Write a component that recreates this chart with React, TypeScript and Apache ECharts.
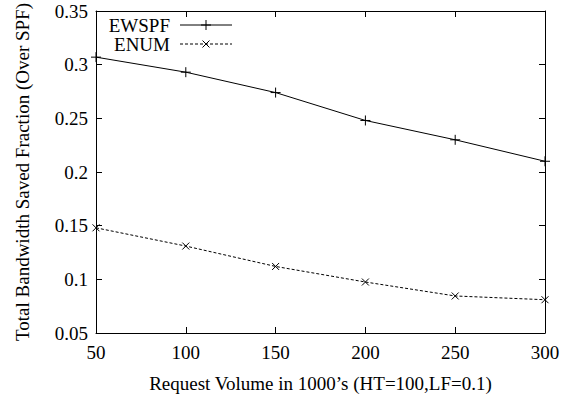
import React, { useEffect, useRef } from 'react';
import * as echarts from 'echarts';

const xValues = [50, 100, 150, 200, 250, 300];
const ewspfValues = [0.307, 0.293, 0.274, 0.248, 0.23, 0.21];
const enumValues = [0.148, 0.131, 0.112, 0.0975, 0.0845, 0.081];
const seriesNames = ['EWSPF', 'ENUM'];
const xTitle = "Request Volume in 1000\u2019s (HT=100,LF=0.1)";
const yTitle = 'Total Bandwidth Saved Fraction (Over SPF)';

const FONT = "Liberation Serif";
const FS = 19;
const PLUS = 'path://M5,0L5,10M0,5L10,5';
const CROSS = 'path://M0,0L10,10M10,0L0,10';

export default function App() {
  const ref = useRef<HTMLDivElement>(null);
  useEffect(() => {
    if (!ref.current) return;
    const chart = echarts.init(ref.current, undefined, { renderer: 'svg' });
    const axisCommon = {
      type: 'value' as const,
      axisLine: { show: true, onZero: false, lineStyle: { color: '#000', width: 1 } },
      axisTick: { show: true, inside: true, length: 6, lineStyle: { color: '#000', width: 1 } },
      splitLine: { show: false },
    };
    const labelStyle = { color: '#000', fontFamily: FONT, fontSize: FS };
    const fmt = (v: number) => String(+v.toFixed(2));
    const legendX1 = 180, legendX2 = 232, legendMid = 206;
    const ly1 = 25, ly2 = 44;
    const textStyle = { fill: '#000', fontFamily: FONT, fontSize: FS, align: 'right', verticalAlign: 'middle' };
    chart.setOption({
      animation: false,
      grid: { left: 96, right: 25, top: 11, bottom: 68, containLabel: false },
      xAxis: [
        {
          ...axisCommon, min: 50, max: 300, interval: 50, position: 'bottom',
          axisLabel: { ...labelStyle, margin: 10, formatter: fmt },
          name: xTitle, nameLocation: 'middle', nameGap: 41,
          nameTextStyle: { ...labelStyle },
        },
        {
          ...axisCommon, min: 50, max: 300, interval: 50, position: 'top',
          axisLabel: { show: false },
        },
      ],
      yAxis: [
        {
          ...axisCommon, min: 0.05, max: 0.35, interval: 0.05, position: 'left',
          axisLabel: { ...labelStyle, margin: 8, formatter: fmt },
          name: yTitle, nameLocation: 'middle', nameGap: 64,
          nameTextStyle: { ...labelStyle },
        },
        {
          ...axisCommon, min: 0.05, max: 0.35, interval: 0.05, position: 'right',
          axisLabel: { show: false },
        },
      ],
      series: [
        {
          name: seriesNames[0], type: 'line',
          data: xValues.map((x, i) => [x, ewspfValues[i]]),
          symbol: PLUS, symbolSize: 10, showAllSymbol: true,
          lineStyle: { color: '#000', width: 1 },
          itemStyle: { color: 'none', borderColor: '#000', borderWidth: 1 },
          clip: false,
        },
        {
          name: seriesNames[1], type: 'line',
          data: xValues.map((x, i) => [x, enumValues[i]]),
          symbol: CROSS, symbolSize: 7, showAllSymbol: true,
          lineStyle: { color: '#000', width: 1, type: [3, 2] },
          itemStyle: { color: 'none', borderColor: '#000', borderWidth: 1 },
          clip: false,
        },
      ],
      graphic: [
        { type: 'text', x: 170, y: ly1, style: { text: seriesNames[0], ...textStyle } },
        { type: 'line', shape: { x1: legendX1, y1: ly1, x2: legendX2, y2: ly1 }, style: { stroke: '#000', lineWidth: 1 } },
        { type: 'line', shape: { x1: legendMid - 5, y1: ly1, x2: legendMid + 5, y2: ly1 }, style: { stroke: '#000', lineWidth: 1 } },
        { type: 'line', shape: { x1: legendMid, y1: ly1 - 5, x2: legendMid, y2: ly1 + 5 }, style: { stroke: '#000', lineWidth: 1 } },
        { type: 'text', x: 170, y: ly2, style: { text: seriesNames[1], ...textStyle } },
        { type: 'line', shape: { x1: legendX1, y1: ly2, x2: legendX2, y2: ly2 }, style: { stroke: '#000', lineWidth: 1, lineDash: [3, 2] } },
        { type: 'line', shape: { x1: legendMid - 3.5, y1: ly2 - 3.5, x2: legendMid + 3.5, y2: ly2 + 3.5 }, style: { stroke: '#000', lineWidth: 1 } },
        { type: 'line', shape: { x1: legendMid + 3.5, y1: ly2 - 3.5, x2: legendMid - 3.5, y2: ly2 + 3.5 }, style: { stroke: '#000', lineWidth: 1 } },
      ],
    });
    return () => chart.dispose();
  }, []);
  return (
    <div
      ref={ref}
      style={{ position: 'fixed', left: 0, top: 0, width: 570, height: 401, background: '#fff' }}
    />
  );
}
